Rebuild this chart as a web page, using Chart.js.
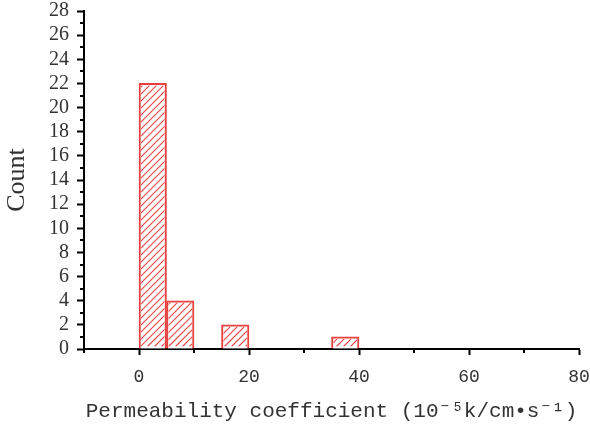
<!DOCTYPE html>
<html>
<head>
<meta charset="utf-8">
<script src="https://cdn.jsdelivr.net/npm/chart.js@4.4.1/dist/chart.umd.min.js"></script>
<style>
  html, body { margin: 0; padding: 0; background: #fff; }
  #wrap { width: 590px; height: 428px; }
</style>
</head>
<body>
<div id="wrap"><canvas id="chart" width="590" height="428"></canvas></div>
<script>
// === Histogram data (bin start, width 5) ===
var binStarts = [0, 5, 10, 15, 20, 25, 30, 35];
var binWidth = 5;
var counts = [22, 4, null, 2, null, null, null, 1];

var xTicks = [0, 20, 40, 60, 80];
var xMinor = [-10, 10, 30, 50, 70];
var yTicks = [0, 2, 4, 6, 8, 10, 12, 14, 16, 18, 20, 22, 24, 26, 28];
var yMinor = [1, 3, 5, 7, 9, 11, 13, 15, 17, 19, 21, 23, 25, 27];

var RED = '#e8413f';
var BORDER = 2;
var HATCH_STEP = 7;

// --- "/" hatching inside each bar, clipped to the bar element ---
var hatchBars = {
  id: 'hatchBars',
  afterDatasetsDraw: function(chart) {
    var ctx = chart.ctx;
    var meta = chart.getDatasetMeta(0);
    ctx.save();
    ctx.strokeStyle = RED;
    ctx.lineWidth = 1.1;
    meta.data.forEach(function(bar) {
      var p = bar.getProps(['x', 'y', 'base', 'width'], true);
      if (!isFinite(p.y) || !isFinite(p.base)) return;
      var left = p.x - p.width / 2 + BORDER;
      var right = p.x + p.width / 2 - BORDER;
      var top = Math.min(p.y, p.base) + BORDER;
      var bottom = Math.max(p.y, p.base) - BORDER;
      if (bottom <= top) return;
      var h = bottom - top;
      ctx.save();
      ctx.beginPath();
      ctx.rect(left, top, right - left, h);
      ctx.clip();
      ctx.beginPath();
      var start = Math.floor((left - h) / HATCH_STEP) * HATCH_STEP + 0.5;
      for (var k = start; k < right; k += HATCH_STEP) {
        ctx.moveTo(k, bottom);
        ctx.lineTo(k + h, top);
      }
      ctx.stroke();
      ctx.restore();
    });
    ctx.restore();
  }
};

// --- minor ticks plugin ---
var minorTicks = {
  id: 'minorTicks',
  afterDraw: function(chart) {
    var ctx = chart.ctx;
    var xs = chart.scales.x, ys = chart.scales.y;
    ctx.save();
    ctx.strokeStyle = '#000';
    ctx.lineWidth = 2;
    ctx.beginPath();
    xMinor.forEach(function(v) {
      var px = Math.round(xs.getPixelForValue(v));
      ctx.moveTo(px, xs.top);
      ctx.lineTo(px, xs.top + 4);
    });
    yMinor.forEach(function(v) {
      var py = Math.round(ys.getPixelForValue(v));
      ctx.moveTo(ys.right, py);
      ctx.lineTo(ys.right - 4, py);
    });
    ctx.stroke();
    ctx.restore();
  }
};

function noPad(s) {
  s.paddingTop = 0; s.paddingBottom = 0;
  s.paddingLeft = 0; s.paddingRight = 0;
}

var points = binStarts.map(function(s, i) {
  return { x: s + binWidth / 2, y: counts[i] };
});

new Chart(document.getElementById('chart').getContext('2d'), {
  type: 'bar',
  data: {
    datasets: [{
      data: points,
      backgroundColor: '#ffffff',
      borderColor: RED,
      borderWidth: BORDER,
      barPercentage: 1,
      categoryPercentage: 1
    }]
  },
  options: {
    responsive: false,
    animation: false,
    layout: { padding: { top: 11, right: 11, left: 0, bottom: 0 } },
    plugins: {
      legend: { display: false },
      tooltip: { enabled: false }
    },
    scales: {
      x: {
        type: 'linear',
        min: -10,
        max: 80,
        offset: false,
        afterBuildTicks: function(s) {
          s.ticks = xTicks.map(function(v) { return { value: v }; });
        },
        afterFit: function(s) { s.height = 79; noPad(s); },
        grid: {
          offset: false,
          drawOnChartArea: false,
          drawTicks: true,
          tickLength: 6,
          tickWidth: 2,
          tickColor: '#000'
        },
        border: { color: '#000', width: 2 },
        ticks: {
          padding: 11,
          color: '#333',
          autoSkip: false,
          maxRotation: 0,
          font: { family: 'Liberation Mono, DejaVu Sans Mono, monospace', size: 18 }
        },
        title: {
          display: true,
          text: 'Permeability coefficient (10\u207B\u2075k/cm\u2022s\u207B\u00B9)',
          color: '#333',
          padding: { top: 0, bottom: 4 },
          font: { family: 'Liberation Mono, DejaVu Sans Mono, monospace', size: 21, weight: 'normal' }
        }
      },
      y: {
        min: 0,
        max: 28,
        afterBuildTicks: function(s) {
          s.ticks = yTicks.map(function(v) { return { value: v }; });
        },
        afterFit: function(s) { s.width = 84; noPad(s); },
        grid: {
          drawOnChartArea: false,
          drawTicks: true,
          tickLength: 7,
          tickWidth: 2,
          tickColor: '#000'
        },
        border: { color: '#000', width: 2 },
        ticks: {
          padding: 8,
          color: '#333',
          autoSkip: false,
          font: { family: 'Liberation Serif, serif', size: 20 }
        },
        title: {
          display: true,
          text: 'Count',
          color: '#333',
          padding: { top: 2, bottom: 0 },
          font: { family: 'Liberation Serif, serif', size: 26, weight: 'normal' }
        }
      }
    }
  },
  plugins: [hatchBars, minorTicks]
});
</script>
</body>
</html>
